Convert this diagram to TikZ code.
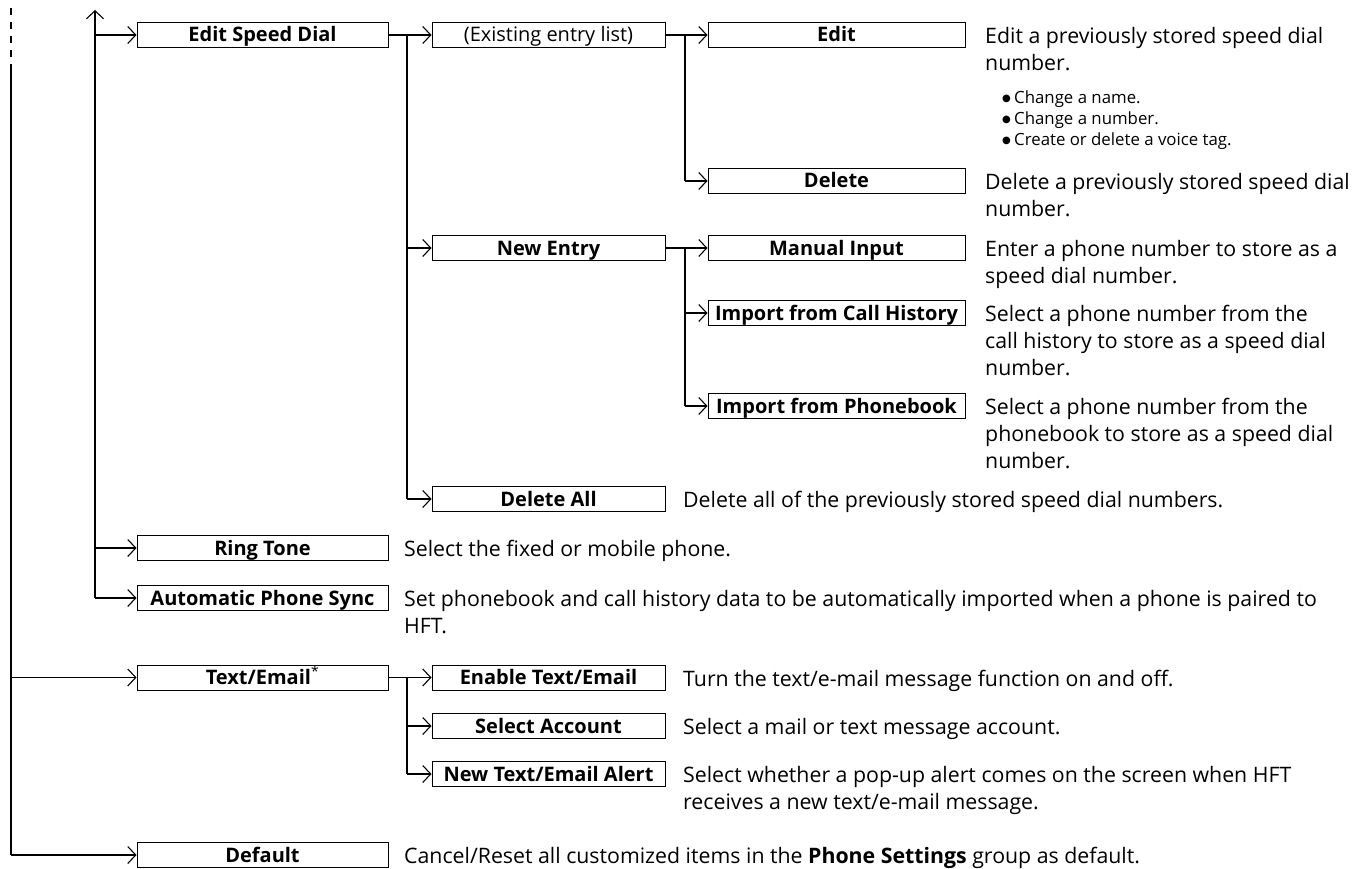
\documentclass[tikz,border=0pt]{standalone}
\usepackage{fontspec}
\setmainfont{Open Sans}
\newfontfamily\bulfont{DejaVu Sans}
\usetikzlibrary{arrows.meta,calc}
\newcommand{\bulitem}{\makebox[12pt][l]{\raisebox{2.5pt}{\bulfont\fontsize{10}{10}\selectfont ●}}}
\begin{document}
\begin{tikzpicture}[x=1pt,y=-1pt,
  box/.style={draw,line width=1pt,minimum height=25pt,inner sep=0pt,text height=14.5pt,text depth=0.5pt,font=\fontsize{20}{20}\selectfont\bfseries},
  bA/.style={box,minimum width=251pt},
  bB/.style={box,minimum width=233pt},
  bC/.style={box,minimum width=257pt},
  con/.style={line width=1.9pt},
  arr/.style={con,-{Straight Barb[length=8pt,width=17pt,line width=1.1pt]}},
  desc/.style={anchor=north west,inner sep=0pt,align=left,font=\fontsize{21.3}{27}\selectfont},
  bul/.style={anchor=north west,inner sep=0pt,align=left,font=\fontsize{16.8}{21}\selectfont},
]
\useasboundingbox (0,0) rectangle (1352,869);

% boxes
\node[bA] (esd) at (262.5,35) {Edit Speed Dial};
\node[bB] (eel) at (548.5,35) {\mdseries(Existing entry list)};
\node[bC] (edit) at (836.5,35) {Edit};
\node[bC] (del) at (836.5,181) {Delete};
\node[bB] (ne) at (548.5,248) {New Entry};
\node[bC] (mi) at (836.5,248) {Manual Input};
\node[bC] (ich) at (836.5,313) {Import from Call History};
\node[bC] (ipb) at (836.5,406) {Import from Phonebook};
\node[bB] (da) at (548.5,499) {Delete All};
\node[bA] (rt) at (262.5,548) {Ring Tone};
\node[bA] (aps) at (262.5,598) {Automatic Phone Sync};
\node[bA] (te) at (262.5,677.5) {Text/Email\textsuperscript{\mdseries*}};
\node[bB] (ete) at (548.5,677.5) {Enable Text/Email};
\node[bB] (sa) at (548.5,726) {Select Account};
\node[bB] (nta) at (548.5,774) {New Text/Email Alert};
\node[bA] (def) at (262.5,855) {Default};

% descriptions
\node[desc] (dedit) at (985,24) {\strut Edit a previously stored speed dial\\number.};
\node[bul] (dbul) at (1002,89) {\strut\bulitem Change a name.\\\bulitem Change a number.\\\bulitem Create or delete a voice tag.};
\node[desc] (ddel) at (985,170) {\strut Delete a previously stored speed dial\\number.};
\node[desc] (dmi) at (985,237) {\strut Enter a phone number to store as a\\speed dial number.};
\node[desc] (dich) at (985,302) {\strut Select a phone number from the\\call history to store as a speed dial\\number.};
\node[desc] (dipb) at (985,395) {\strut Select a phone number from the\\phonebook to store as a speed dial\\number.};
\node[desc] (dda) at (683,488) {\strut Delete all of the previously stored speed dial numbers.};
\node[desc] (drt) at (404,537) {\strut Select the fixed or mobile phone.};
\node[desc] (daps) at (404,587) {\strut Set phonebook and call history data to be automatically imported when a phone is paired to\\HFT.};
\node[desc] (dete) at (683,667) {\strut Turn the text/e-mail message function on and off.};
\node[desc] (dsa) at (683,715) {\strut Select a mail or text message account.};
\node[desc] (dnta) at (683,763) {\strut Select whether a pop-up alert comes on the screen when HFT\\receives a new text/e-mail message.};
\node[desc] (ddef) at (404,844) {\strut Cancel/Reset all customized items in the \textbf{Phone Settings} group as default.};

% junction coordinates
\coordinate (L0top) at (11,8);
\coordinate (L0mid) at (11,66);
\coordinate (L1top) at (95,10);
\coordinate (J1) at (407,35);
\coordinate (J2) at (685,35);
\coordinate (J3) at (685,248);
\coordinate (J4) at (407,677.5);

% level 0
\draw[con,dash pattern=on 7pt off 7pt] (L0top) -- (L0mid);
\draw[con] (L0mid) -- (L0mid |- def.west);
\draw[arr] (L0mid |- te.west) -- (te.west);
\draw[arr] (L0mid |- def.west) -- (def.west);

% level 1
\draw[con,{Straight Barb[length=8pt,width=17pt,line width=1.1pt]}-] (L1top) -- (L1top |- aps.west);
\draw[arr] (L1top |- esd.west) -- (esd.west);
\draw[arr] (L1top |- rt.west) -- (rt.west);
\draw[arr] (L1top |- aps.west) -- (aps.west);

% edit speed dial branch
\draw[arr] (esd.east) -- (eel.west);
\draw[con] (J1) -- (J1 |- da.west);
\draw[arr] (J1 |- ne.west) -- (ne.west);
\draw[arr] (J1 |- da.west) -- (da.west);

\draw[arr] (eel.east) -- (edit.west);
\draw[con] (J2) -- (J2 |- del.west);
\draw[arr] (J2 |- del.west) -- (del.west);

\draw[arr] (ne.east) -- (mi.west);
\draw[con] (J3) -- (J3 |- ipb.west);
\draw[arr] (J3 |- ich.west) -- (ich.west);
\draw[arr] (J3 |- ipb.west) -- (ipb.west);

% text/email branch
\draw[arr] (te.east) -- (ete.west);
\draw[con] (J4) -- (J4 |- nta.west);
\draw[arr] (J4 |- sa.west) -- (sa.west);
\draw[arr] (J4 |- nta.west) -- (nta.west);
\end{tikzpicture}
\end{document}
